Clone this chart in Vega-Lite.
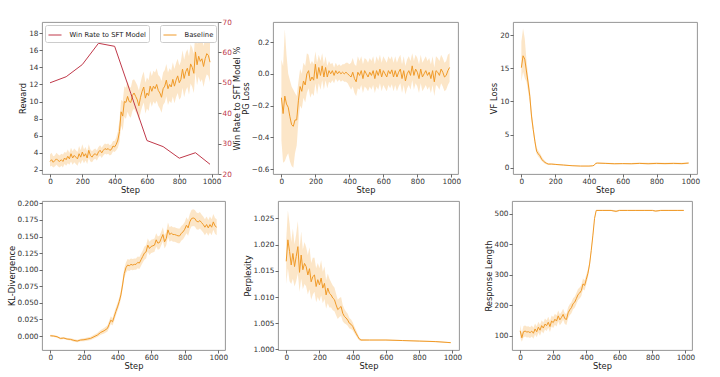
{
"$schema": "https://vega.github.io/schema/vega-lite/v6.json",
"background": "white",
"padding": {"top": 17, "left": 6, "right": 4, "bottom": 2},
"config": {
 "font": "DejaVu Sans",
 "view": {"stroke": "#8a8a8a", "strokeWidth": 0.9},
 "axis": {"grid": false, "domain": false, "labelOverlap": false, "labelFlush": false, "tickColor": "#444", "tickSize": 3, "tickWidth": 0.8, "labelFontSize": 7.3, "labelColor": "#333", "titleFontSize": 8.3, "titleFontWeight": "normal", "titleColor": "#222", "labelPadding": 1, "titlePadding": 1, "labelFont": "DejaVu Sans", "titleFont": "DejaVu Sans"},
 "axisX": {"titlePadding": 1, "labelPadding": 0.5},
 "legend": {"labelFontSize": 6.8, "labelFont": "DejaVu Sans", "labelColor": "#222", "symbolType": "stroke", "symbolSize": 170, "symbolStrokeWidth": 1.3, "strokeColor": "#cccccc", "cornerRadius": 2, "padding": 2.5, "fillColor": "white", "labelOffset": 7},
 "line": {"strokeWidth": 1}
},
"datasets": {
 "reward": [
  {"s":0,"m":3.0,"l":2.4,"h":3.8},{"s":10,"m":3.2,"l":2.5,"h":4.0},{"s":20,"m":2.9,"l":2.3,"h":3.6},{"s":30,"m":3.1,"l":2.4,"h":3.7},{"s":40,"m":3.3,"l":2.6,"h":4.0},{"s":50,"m":3.1,"l":2.4,"h":3.8},{"s":60,"m":3.0,"l":2.3,"h":3.7},{"s":70,"m":3.2,"l":2.5,"h":3.9},{"s":80,"m":3.0,"l":2.3,"h":3.8},{"s":90,"m":3.4,"l":2.7,"h":4.1},
  {"s":100,"m":3.2,"l":2.5,"h":4.0},{"s":110,"m":3.6,"l":2.8,"h":4.4},{"s":120,"m":3.3,"l":2.6,"h":4.0},{"s":130,"m":3.9,"l":3.0,"h":4.6},{"s":140,"m":3.4,"l":2.6,"h":4.2},{"s":150,"m":3.7,"l":2.9,"h":4.5},{"s":160,"m":3.5,"l":2.7,"h":4.3},{"s":170,"m":3.3,"l":2.5,"h":4.1},{"s":180,"m":3.9,"l":3.0,"h":4.8},{"s":190,"m":3.5,"l":2.7,"h":4.3},
  {"s":200,"m":4.1,"l":3.2,"h":5.0},{"s":210,"m":3.6,"l":2.8,"h":4.4},{"s":220,"m":3.9,"l":3.1,"h":4.7},{"s":230,"m":3.4,"l":2.7,"h":4.2},{"s":240,"m":4.3,"l":3.4,"h":5.0},{"s":250,"m":3.7,"l":3.0,"h":4.4},{"s":260,"m":3.5,"l":2.9,"h":4.2},{"s":270,"m":3.8,"l":3.2,"h":4.4},{"s":280,"m":3.9,"l":3.3,"h":4.5},{"s":290,"m":3.7,"l":3.1,"h":4.3},
  {"s":300,"m":4.1,"l":3.5,"h":4.7},{"s":310,"m":4.3,"l":3.7,"h":4.9},{"s":320,"m":4.0,"l":3.4,"h":4.6},{"s":330,"m":4.3,"l":3.7,"h":4.9},{"s":340,"m":4.5,"l":3.9,"h":5.1},{"s":350,"m":4.4,"l":3.8,"h":5.0},{"s":360,"m":4.5,"l":3.9,"h":5.1},{"s":370,"m":4.3,"l":3.7,"h":4.9},{"s":380,"m":4.4,"l":3.8,"h":5.0},{"s":390,"m":4.8,"l":4.2,"h":5.4},
  {"s":400,"m":4.7,"l":4.1,"h":5.4},{"s":410,"m":5.0,"l":4.3,"h":5.8},{"s":420,"m":5.5,"l":4.6,"h":6.5},{"s":430,"m":6.5,"l":5.3,"h":7.8},{"s":440,"m":8.8,"l":7.2,"h":10.2},{"s":450,"m":8.3,"l":6.6,"h":10.0},{"s":460,"m":10.0,"l":8.2,"h":11.8},{"s":470,"m":9.9,"l":8.0,"h":11.6},{"s":480,"m":10.6,"l":8.8,"h":12.4},{"s":490,"m":10.0,"l":8.3,"h":11.8},
  {"s":500,"m":9.9,"l":8.1,"h":11.6},{"s":510,"m":10.7,"l":8.9,"h":12.5},{"s":520,"m":11.0,"l":9.2,"h":12.6},{"s":530,"m":10.6,"l":8.8,"h":12.3},{"s":540,"m":10.2,"l":8.5,"h":11.9},{"s":550,"m":9.5,"l":7.8,"h":11.3},{"s":560,"m":10.5,"l":8.7,"h":12.2},{"s":570,"m":11.2,"l":9.4,"h":13.0},{"s":580,"m":11.7,"l":9.9,"h":13.5},{"s":590,"m":10.4,"l":8.6,"h":12.2},
  {"s":600,"m":11.0,"l":9.2,"h":12.8},{"s":610,"m":10.7,"l":8.9,"h":12.5},{"s":620,"m":11.8,"l":10.0,"h":13.6},{"s":630,"m":11.2,"l":9.4,"h":13.0},{"s":640,"m":11.8,"l":10.0,"h":13.6},{"s":650,"m":11.5,"l":9.7,"h":13.4},{"s":660,"m":12.0,"l":10.1,"h":13.9},{"s":670,"m":11.3,"l":9.5,"h":13.1},{"s":680,"m":11.0,"l":9.2,"h":12.9},{"s":690,"m":10.5,"l":8.7,"h":12.4},
  {"s":700,"m":11.5,"l":9.6,"h":13.4},{"s":710,"m":11.8,"l":9.9,"h":13.7},{"s":720,"m":12.5,"l":10.6,"h":14.4},{"s":730,"m":11.5,"l":9.6,"h":13.4},{"s":740,"m":12.0,"l":10.1,"h":13.9},{"s":750,"m":11.7,"l":9.8,"h":13.6},{"s":760,"m":12.6,"l":10.6,"h":14.6},{"s":770,"m":11.8,"l":9.8,"h":13.8},{"s":780,"m":12.5,"l":10.5,"h":14.5},{"s":790,"m":13.0,"l":11.0,"h":15.0},
  {"s":800,"m":12.2,"l":10.2,"h":14.2},{"s":810,"m":12.6,"l":10.5,"h":14.7},{"s":820,"m":13.8,"l":11.6,"h":16.0},{"s":830,"m":12.7,"l":10.5,"h":14.9},{"s":840,"m":13.5,"l":11.3,"h":15.7},{"s":850,"m":13.9,"l":11.7,"h":16.1},{"s":860,"m":13.0,"l":10.8,"h":15.3},{"s":870,"m":14.4,"l":12.1,"h":16.7},{"s":880,"m":14.0,"l":11.7,"h":16.3},{"s":890,"m":13.3,"l":11.0,"h":15.6},
  {"s":900,"m":15.8,"l":13.4,"h":18.2},{"s":910,"m":14.3,"l":11.9,"h":16.7},{"s":920,"m":15.3,"l":12.9,"h":17.7},{"s":930,"m":14.7,"l":12.3,"h":17.1},{"s":940,"m":15.0,"l":12.6,"h":17.4},{"s":950,"m":14.1,"l":11.7,"h":16.5},{"s":960,"m":15.0,"l":12.6,"h":17.4},{"s":970,"m":15.6,"l":13.2,"h":18.0},{"s":980,"m":15.4,"l":13.0,"h":17.8},{"s":990,"m":14.6,"l":12.3,"h":17.0}
 ],
 "winrate": [
  {"s":0,"w":50},{"s":100,"w":52},{"s":200,"w":56},{"s":300,"w":63},{"s":400,"w":62},{"s":500,"w":46.5},{"s":600,"w":31},{"s":700,"w":29},{"s":800,"w":25.2},{"s":900,"w":27},{"s":990,"w":23.2}
 ],
 "pg": [
  {"s":0,"m":-0.15,"l":-0.42,"h":0.09},{"s":10,"m":-0.25,"l":-0.56,"h":0.05},{"s":20,"m":-0.14,"l":-0.55,"h":0.28},{"s":30,"m":-0.19,"l":-0.52,"h":0.12},{"s":40,"m":-0.21,"l":-0.5,"h":0.0},{"s":50,"m":-0.27,"l":-0.55,"h":-0.04},{"s":60,"m":-0.32,"l":-0.58,"h":-0.08},{"s":70,"m":-0.33,"l":-0.59,"h":-0.1},{"s":80,"m":-0.29,"l":-0.5,"h":-0.12},{"s":90,"m":-0.29,"l":-0.45,"h":-0.14},
  {"s":100,"m":-0.17,"l":-0.3,"h":-0.05},{"s":110,"m":-0.08,"l":-0.2,"h":0.03},{"s":120,"m":-0.11,"l":-0.22,"h":0.0},{"s":130,"m":-0.045,"l":-0.15,"h":0.07},{"s":140,"m":-0.07,"l":-0.18,"h":0.05},{"s":150,"m":0.0,"l":-0.12,"h":0.13},{"s":160,"m":0.02,"l":-0.09,"h":0.12},{"s":170,"m":-0.045,"l":-0.15,"h":0.06},{"s":180,"m":-0.02,"l":-0.12,"h":0.08},{"s":190,"m":-0.04,"l":-0.14,"h":0.06},
  {"s":200,"m":0.06,"l":-0.06,"h":0.14},{"s":210,"m":-0.03,"l":-0.13,"h":0.07},{"s":220,"m":0.04,"l":-0.06,"h":0.12},{"s":230,"m":-0.01,"l":-0.1,"h":0.08},{"s":240,"m":0.05,"l":-0.04,"h":0.13},{"s":250,"m":-0.02,"l":-0.1,"h":0.06},{"s":260,"m":0.04,"l":-0.04,"h":0.11},{"s":270,"m":-0.02,"l":-0.09,"h":0.05},{"s":280,"m":0.02,"l":-0.05,"h":0.08},{"s":290,"m":0.0,"l":-0.06,"h":0.06},
  {"s":300,"m":0.02,"l":-0.04,"h":0.07},{"s":310,"m":-0.01,"l":-0.06,"h":0.04},{"s":320,"m":0.02,"l":-0.03,"h":0.07},{"s":330,"m":0.0,"l":-0.05,"h":0.05},{"s":340,"m":0.015,"l":-0.035,"h":0.06},{"s":350,"m":0.0,"l":-0.05,"h":0.05},{"s":360,"m":0.01,"l":-0.04,"h":0.06},{"s":370,"m":0.0,"l":-0.05,"h":0.06},{"s":380,"m":0.01,"l":-0.05,"h":0.07},{"s":390,"m":0.0,"l":-0.06,"h":0.07},
  {"s":400,"m":-0.01,"l":-0.08,"h":0.06},{"s":410,"m":-0.02,"l":-0.1,"h":0.07},{"s":420,"m":0.01,"l":-0.08,"h":0.1},{"s":430,"m":-0.03,"l":-0.12,"h":0.06},{"s":440,"m":-0.05,"l":-0.14,"h":0.05},{"s":450,"m":0.01,"l":-0.09,"h":0.11},{"s":460,"m":-0.01,"l":-0.1,"h":0.08},{"s":470,"m":0.02,"l":-0.07,"h":0.11},{"s":480,"m":-0.03,"l":-0.12,"h":0.06},{"s":490,"m":0.02,"l":-0.08,"h":0.1},
  {"s":500,"m":0.0,"l":-0.09,"h":0.09},{"s":510,"m":-0.02,"l":-0.11,"h":0.07},{"s":520,"m":0.01,"l":-0.08,"h":0.1},{"s":530,"m":-0.01,"l":-0.1,"h":0.08},{"s":540,"m":0.02,"l":-0.07,"h":0.11},{"s":550,"m":-0.03,"l":-0.12,"h":0.06},{"s":560,"m":0.02,"l":-0.08,"h":0.11},{"s":570,"m":-0.01,"l":-0.1,"h":0.08},{"s":580,"m":0.03,"l":-0.06,"h":0.12},{"s":590,"m":-0.02,"l":-0.11,"h":0.07},
  {"s":600,"m":0.02,"l":-0.07,"h":0.11},{"s":610,"m":0.0,"l":-0.09,"h":0.09},{"s":620,"m":-0.02,"l":-0.11,"h":0.07},{"s":630,"m":0.02,"l":-0.07,"h":0.11},{"s":640,"m":0.0,"l":-0.09,"h":0.09},{"s":650,"m":0.025,"l":-0.065,"h":0.11},{"s":660,"m":-0.02,"l":-0.11,"h":0.07},{"s":670,"m":0.02,"l":-0.07,"h":0.11},{"s":680,"m":-0.02,"l":-0.11,"h":0.07},{"s":690,"m":0.01,"l":-0.08,"h":0.1},
  {"s":700,"m":0.03,"l":-0.06,"h":0.12},{"s":710,"m":-0.03,"l":-0.12,"h":0.06},{"s":720,"m":0.02,"l":-0.07,"h":0.11},{"s":730,"m":-0.045,"l":-0.13,"h":0.05},{"s":740,"m":0.0,"l":-0.09,"h":0.09},{"s":750,"m":0.02,"l":-0.07,"h":0.11},{"s":760,"m":-0.01,"l":-0.1,"h":0.08},{"s":770,"m":0.05,"l":-0.04,"h":0.13},{"s":780,"m":-0.01,"l":-0.1,"h":0.08},{"s":790,"m":0.03,"l":-0.06,"h":0.12},
  {"s":800,"m":0.01,"l":-0.08,"h":0.1},{"s":810,"m":-0.03,"l":-0.12,"h":0.06},{"s":820,"m":0.03,"l":-0.06,"h":0.12},{"s":830,"m":-0.02,"l":-0.11,"h":0.07},{"s":840,"m":0.0,"l":-0.09,"h":0.09},{"s":850,"m":0.02,"l":-0.07,"h":0.11},{"s":860,"m":-0.01,"l":-0.1,"h":0.08},{"s":870,"m":0.01,"l":-0.08,"h":0.1},{"s":880,"m":-0.03,"l":-0.12,"h":0.06},{"s":890,"m":0.02,"l":-0.07,"h":0.11},
  {"s":900,"m":-0.05,"l":-0.14,"h":0.04},{"s":910,"m":0.02,"l":-0.07,"h":0.11},{"s":920,"m":0.01,"l":-0.08,"h":0.1},{"s":930,"m":-0.01,"l":-0.1,"h":0.08},{"s":940,"m":0.03,"l":-0.06,"h":0.12},{"s":950,"m":0.01,"l":-0.08,"h":0.1},{"s":960,"m":-0.02,"l":-0.11,"h":0.07},{"s":970,"m":-0.01,"l":-0.1,"h":0.08},{"s":980,"m":0.02,"l":-0.07,"h":0.12},{"s":990,"m":0.04,"l":-0.05,"h":0.13}
 ],
 "vf": [
  {"s":0,"m":15.1,"l":13.0,"h":19.0},{"s":10,"m":16.9,"l":14.5,"h":21.0},{"s":20,"m":16.4,"l":13.5,"h":19.5},{"s":30,"m":14.6,"l":13.0,"h":16.3},{"s":40,"m":12.8,"l":11.5,"h":13.8},{"s":50,"m":10.8,"l":9.8,"h":11.9},{"s":60,"m":7.8,"l":7.0,"h":8.7},{"s":70,"m":5.8,"l":5.2,"h":6.5},{"s":80,"m":4.0,"l":3.5,"h":4.6},{"s":90,"m":2.5,"l":2.1,"h":3.0},
  {"s":100,"m":2.1,"l":1.7,"h":2.6},{"s":110,"m":1.8,"l":1.4,"h":2.2},{"s":120,"m":1.3,"l":1.0,"h":1.7},{"s":130,"m":1.0,"l":0.8,"h":1.3},{"s":140,"m":0.8,"l":0.6,"h":1.0},{"s":150,"m":0.65,"l":0.5,"h":0.8},{"s":160,"m":0.55,"l":0.42,"h":0.68},{"s":180,"m":0.55,"l":0.45,"h":0.65},{"s":200,"m":0.5,"l":0.42,"h":0.58},{"s":250,"m":0.4,"l":0.33,"h":0.47},
  {"s":300,"m":0.3,"l":0.24,"h":0.36},{"s":350,"m":0.25,"l":0.2,"h":0.3},{"s":400,"m":0.25,"l":0.2,"h":0.3},{"s":420,"m":0.28,"l":0.22,"h":0.34},{"s":430,"m":0.35,"l":0.28,"h":0.42},{"s":440,"m":0.65,"l":0.55,"h":0.75},{"s":450,"m":0.7,"l":0.6,"h":0.8},{"s":500,"m":0.65,"l":0.55,"h":0.75},{"s":550,"m":0.6,"l":0.5,"h":0.7},{"s":600,"m":0.62,"l":0.52,"h":0.72},
  {"s":650,"m":0.6,"l":0.5,"h":0.7},{"s":700,"m":0.65,"l":0.55,"h":0.78},{"s":750,"m":0.6,"l":0.48,"h":0.75},{"s":800,"m":0.65,"l":0.53,"h":0.78},{"s":850,"m":0.62,"l":0.5,"h":0.75},{"s":900,"m":0.65,"l":0.53,"h":0.78},{"s":950,"m":0.62,"l":0.5,"h":0.75},{"s":990,"m":0.7,"l":0.58,"h":0.82}
 ],
 "kl": [
  {"s":0,"m":0.0005,"l":-0.001,"h":0.002},{"s":20,"m":0.0,"l":-0.0015,"h":0.0015},{"s":40,"m":-0.001,"l":-0.0025,"h":0.0005},{"s":60,"m":-0.0035,"l":-0.005,"h":-0.002},{"s":80,"m":-0.003,"l":-0.0045,"h":-0.0015},{"s":100,"m":-0.0045,"l":-0.006,"h":-0.003},{"s":120,"m":-0.005,"l":-0.0068,"h":-0.0032},{"s":140,"m":-0.0065,"l":-0.0085,"h":-0.0045},{"s":160,"m":-0.0075,"l":-0.0095,"h":-0.0055},{"s":180,"m":-0.006,"l":-0.008,"h":-0.004},
  {"s":200,"m":-0.0055,"l":-0.0078,"h":-0.0032},{"s":220,"m":-0.0045,"l":-0.007,"h":-0.002},{"s":240,"m":-0.0035,"l":-0.006,"h":-0.001},{"s":260,"m":-0.001,"l":-0.0038,"h":0.0018},{"s":280,"m":0.0015,"l":-0.0015,"h":0.0045},{"s":300,"m":0.0055,"l":0.002,"h":0.009},{"s":320,"m":0.008,"l":0.004,"h":0.012},{"s":340,"m":0.0115,"l":0.007,"h":0.016},{"s":350,"m":0.0175,"l":0.012,"h":0.023},{"s":360,"m":0.024,"l":0.018,"h":0.03},
  {"s":370,"m":0.0215,"l":0.016,"h":0.027},{"s":380,"m":0.029,"l":0.023,"h":0.035},{"s":390,"m":0.037,"l":0.031,"h":0.043},{"s":400,"m":0.044,"l":0.038,"h":0.05},{"s":410,"m":0.052,"l":0.046,"h":0.058},{"s":420,"m":0.062,"l":0.055,"h":0.069},{"s":430,"m":0.077,"l":0.07,"h":0.085},{"s":440,"m":0.094,"l":0.087,"h":0.102},{"s":450,"m":0.103,"l":0.095,"h":0.111},{"s":460,"m":0.107,"l":0.099,"h":0.116},
  {"s":470,"m":0.106,"l":0.098,"h":0.115},{"s":480,"m":0.108,"l":0.1,"h":0.117},{"s":490,"m":0.107,"l":0.099,"h":0.116},{"s":500,"m":0.108,"l":0.1,"h":0.117},{"s":510,"m":0.108,"l":0.1,"h":0.117},{"s":520,"m":0.111,"l":0.102,"h":0.12},{"s":530,"m":0.11,"l":0.101,"h":0.119},{"s":540,"m":0.115,"l":0.106,"h":0.124},{"s":550,"m":0.12,"l":0.111,"h":0.129},{"s":560,"m":0.125,"l":0.115,"h":0.135},
  {"s":570,"m":0.127,"l":0.117,"h":0.137},{"s":580,"m":0.137,"l":0.127,"h":0.147},{"s":590,"m":0.132,"l":0.122,"h":0.142},{"s":600,"m":0.135,"l":0.125,"h":0.145},{"s":610,"m":0.136,"l":0.126,"h":0.146},{"s":620,"m":0.137,"l":0.127,"h":0.147},{"s":630,"m":0.145,"l":0.135,"h":0.155},{"s":640,"m":0.14,"l":0.13,"h":0.15},{"s":650,"m":0.141,"l":0.131,"h":0.151},{"s":660,"m":0.147,"l":0.137,"h":0.157},
  {"s":670,"m":0.153,"l":0.143,"h":0.164},{"s":680,"m":0.142,"l":0.132,"h":0.152},{"s":690,"m":0.147,"l":0.137,"h":0.157},{"s":700,"m":0.16,"l":0.149,"h":0.171},{"s":710,"m":0.153,"l":0.142,"h":0.164},{"s":720,"m":0.155,"l":0.144,"h":0.166},{"s":730,"m":0.153,"l":0.142,"h":0.164},{"s":740,"m":0.153,"l":0.142,"h":0.164},{"s":750,"m":0.152,"l":0.141,"h":0.163},{"s":760,"m":0.151,"l":0.14,"h":0.162},
  {"s":770,"m":0.151,"l":0.14,"h":0.162},{"s":780,"m":0.155,"l":0.144,"h":0.166},{"s":790,"m":0.157,"l":0.146,"h":0.168},{"s":800,"m":0.161,"l":0.15,"h":0.172},{"s":810,"m":0.167,"l":0.155,"h":0.179},{"s":820,"m":0.163,"l":0.151,"h":0.175},{"s":830,"m":0.172,"l":0.16,"h":0.184},{"s":840,"m":0.177,"l":0.165,"h":0.19},{"s":850,"m":0.178,"l":0.166,"h":0.191},{"s":860,"m":0.177,"l":0.165,"h":0.19},
  {"s":870,"m":0.173,"l":0.161,"h":0.186},{"s":880,"m":0.172,"l":0.16,"h":0.185},{"s":890,"m":0.174,"l":0.162,"h":0.187},{"s":900,"m":0.171,"l":0.159,"h":0.183},{"s":910,"m":0.168,"l":0.156,"h":0.18},{"s":920,"m":0.164,"l":0.152,"h":0.176},{"s":930,"m":0.168,"l":0.156,"h":0.18},{"s":940,"m":0.163,"l":0.151,"h":0.175},{"s":950,"m":0.168,"l":0.156,"h":0.18},{"s":960,"m":0.164,"l":0.152,"h":0.176},
  {"s":970,"m":0.172,"l":0.16,"h":0.184},{"s":980,"m":0.166,"l":0.154,"h":0.178},{"s":990,"m":0.164,"l":0.152,"h":0.176}
 ],
 "ppl": [
  {"s":0,"m":1.0168,"l":1.0125,"h":1.021},{"s":10,"m":1.0209,"l":1.0155,"h":1.0265},{"s":20,"m":1.0187,"l":1.013,"h":1.024},{"s":30,"m":1.0161,"l":1.0125,"h":1.0205},{"s":40,"m":1.0183,"l":1.0135,"h":1.023},{"s":50,"m":1.0158,"l":1.012,"h":1.02},{"s":60,"m":1.0177,"l":1.013,"h":1.022},{"s":70,"m":1.0196,"l":1.0145,"h":1.0245},{"s":80,"m":1.0147,"l":1.011,"h":1.019},{"s":90,"m":1.018,"l":1.0135,"h":1.0225},
  {"s":100,"m":1.0152,"l":1.0115,"h":1.019},{"s":110,"m":1.0164,"l":1.0125,"h":1.0205},{"s":120,"m":1.0158,"l":1.012,"h":1.0195},{"s":130,"m":1.0142,"l":1.0105,"h":1.018},{"s":140,"m":1.0154,"l":1.0115,"h":1.0195},{"s":150,"m":1.0129,"l":1.0095,"h":1.0165},{"s":160,"m":1.0139,"l":1.0105,"h":1.0175},{"s":170,"m":1.0142,"l":1.011,"h":1.0175},{"s":180,"m":1.012,"l":1.009,"h":1.0155},{"s":190,"m":1.0133,"l":1.01,"h":1.0165},
  {"s":200,"m":1.0123,"l":1.0092,"h":1.0155},{"s":210,"m":1.0136,"l":1.0103,"h":1.017},{"s":220,"m":1.0117,"l":1.0088,"h":1.0148},{"s":230,"m":1.0126,"l":1.0096,"h":1.0158},{"s":240,"m":1.0104,"l":1.0078,"h":1.0132},{"s":250,"m":1.0117,"l":1.0088,"h":1.0145},{"s":260,"m":1.0107,"l":1.008,"h":1.0135},{"s":270,"m":1.0104,"l":1.008,"h":1.0128},{"s":280,"m":1.0098,"l":1.0075,"h":1.0122},{"s":290,"m":1.0095,"l":1.0073,"h":1.0118},
  {"s":300,"m":1.0085,"l":1.0065,"h":1.0106},{"s":310,"m":1.0076,"l":1.0058,"h":1.0095},{"s":320,"m":1.0079,"l":1.0062,"h":1.0098},{"s":330,"m":1.0082,"l":1.0064,"h":1.01},{"s":340,"m":1.0069,"l":1.0054,"h":1.0085},{"s":350,"m":1.0063,"l":1.005,"h":1.0077},{"s":360,"m":1.006,"l":1.0048,"h":1.0072},{"s":370,"m":1.0056,"l":1.0045,"h":1.0068},{"s":380,"m":1.005,"l":1.004,"h":1.006},{"s":390,"m":1.0048,"l":1.0039,"h":1.0057},
  {"s":400,"m":1.0044,"l":1.0036,"h":1.0052},{"s":410,"m":1.0037,"l":1.0031,"h":1.0044},{"s":420,"m":1.0031,"l":1.0026,"h":1.0037},{"s":430,"m":1.0025,"l":1.0021,"h":1.003},{"s":440,"m":1.002,"l":1.0017,"h":1.0023},{"s":450,"m":1.0018,"l":1.0016,"h":1.002},{"s":500,"m":1.0018,"l":1.0017,"h":1.0019},{"s":600,"m":1.0018,"l":1.0017,"h":1.0019},{"s":700,"m":1.0017,"l":1.0016,"h":1.0018},{"s":800,"m":1.0016,"l":1.0015,"h":1.0017},
  {"s":900,"m":1.0015,"l":1.0014,"h":1.0016},{"s":990,"m":1.0013,"l":1.0012,"h":1.0014}
 ],
 "resp": [
  {"s":0,"m":116,"l":95,"h":135},{"s":10,"m":93,"l":80,"h":110},{"s":20,"m":113,"l":95,"h":132},{"s":30,"m":115,"l":97,"h":133},{"s":40,"m":112,"l":94,"h":130},{"s":50,"m":113,"l":95,"h":131},{"s":60,"m":110,"l":92,"h":128},{"s":70,"m":115,"l":97,"h":133},{"s":80,"m":108,"l":90,"h":126},{"s":90,"m":122,"l":104,"h":140},
  {"s":100,"m":113,"l":95,"h":131},{"s":110,"m":128,"l":110,"h":146},{"s":120,"m":118,"l":100,"h":136},{"s":130,"m":133,"l":115,"h":151},{"s":140,"m":125,"l":107,"h":143},{"s":150,"m":138,"l":120,"h":156},{"s":160,"m":133,"l":115,"h":151},{"s":170,"m":144,"l":126,"h":162},{"s":180,"m":130,"l":112,"h":148},{"s":190,"m":148,"l":130,"h":166},
  {"s":200,"m":143,"l":125,"h":161},{"s":210,"m":154,"l":136,"h":172},{"s":220,"m":148,"l":130,"h":166},{"s":230,"m":165,"l":147,"h":183},{"s":240,"m":152,"l":134,"h":170},{"s":250,"m":160,"l":142,"h":178},{"s":260,"m":170,"l":152,"h":188},{"s":270,"m":156,"l":138,"h":174},{"s":280,"m":153,"l":135,"h":171},{"s":290,"m":175,"l":157,"h":193},
  {"s":300,"m":185,"l":167,"h":203},{"s":310,"m":192,"l":174,"h":210},{"s":320,"m":205,"l":187,"h":223},{"s":330,"m":210,"l":192,"h":228},{"s":340,"m":222,"l":204,"h":240},{"s":350,"m":235,"l":217,"h":253},{"s":360,"m":240,"l":222,"h":258},{"s":370,"m":248,"l":230,"h":266},{"s":380,"m":270,"l":252,"h":288},{"s":390,"m":265,"l":248,"h":282},
  {"s":400,"m":285,"l":270,"h":300},{"s":410,"m":305,"l":292,"h":318},{"s":420,"m":335,"l":325,"h":345},{"s":430,"m":380,"l":372,"h":388},{"s":440,"m":430,"l":424,"h":436},{"s":450,"m":485,"l":481,"h":489},{"s":460,"m":511,"l":509,"h":513},{"s":500,"m":511,"l":509,"h":513},{"s":550,"m":511,"l":509,"h":513},{"s":580,"m":508,"l":505,"h":512},
  {"s":600,"m":511,"l":509,"h":513},{"s":650,"m":511,"l":509,"h":513},{"s":700,"m":511,"l":509,"h":513},{"s":750,"m":511,"l":509,"h":513},{"s":800,"m":511,"l":509,"h":513},{"s":820,"m":509,"l":506,"h":512},{"s":850,"m":511,"l":509,"h":513},{"s":900,"m":511,"l":509,"h":513},{"s":950,"m":511,"l":509,"h":513},{"s":990,"m":511,"l":509,"h":513}
 ]
},
"columns": 1,
"align": "none",
"spacing": 3,
"concat": [
 {"spacing": 55, "bounds": "flush", "hconcat": [
  {"width": 176, "height": 152,
   "encoding": {"x": {"field": "s", "type": "quantitative", "scale": {"domain": [-49.5, 1039.5], "nice": false, "zero": false}, "axis": {"values": [0,200,400,600,800,1000], "format": "d", "title": "Step", "labelOverlap": false}}},
   "layer": [
    {"data": {"name": "reward"},
     "mark": {"type": "area", "color": "#f5a73a", "opacity": 0.28},
     "encoding": {
      "y": {"field": "l", "type": "quantitative", "scale": {"domain": [1.53, 19.3], "nice": false, "zero": false}, "axis": null},
      "y2": {"field": "h"}}},
    {"data": {"name": "reward"},
     "mark": {"type": "line", "strokeWidth": 1},
     "encoding": {
      "y": {"field": "m", "type": "quantitative", "scale": {"domain": [1.53, 19.3], "nice": false, "zero": false}, "axis": {"values": [2,4,6,8,10,12,14,16,18], "title": "Reward", "labelOverlap": false}},
      "color": {"datum": "Baseline", "scale": {"range": ["#f09a28"]}, "legend": {"title": null, "orient": "none", "legendX": 118, "legendY": 3}}}},
    {"data": {"name": "winrate"},
     "mark": {"type": "line", "strokeWidth": 1},
     "encoding": {
      "y": {"field": "w", "type": "quantitative", "scale": {"domain": [20, 70], "nice": false, "zero": false}, "axis": {"orient": "right", "values": [20,30,40,50,60,70], "title": "Win Rate to SFT Model %", "labelColor": "#c0394a", "titleAngle": 270, "titleBaseline": "top", "labelOverlap": false}},
      "stroke": {"datum": "Win Rate to SFT Model", "scale": {"range": ["#c0394a"]}, "legend": {"title": null, "orient": "none", "legendX": 3, "legendY": 3}}}}
   ],
   "resolve": {"scale": {"y": "independent"}}
  },
  {"width": 185, "height": 152, "data": {"name": "pg"},
   "encoding": {"x": {"field": "s", "type": "quantitative", "scale": {"domain": [-49.5, 1039.5], "nice": false, "zero": false}, "axis": {"values": [0,200,400,600,800,1000], "format": "d", "title": "Step", "labelOverlap": false}}},
   "layer": [
    {"mark": {"type": "area", "color": "#f5a73a", "opacity": 0.28},
     "encoding": {
      "y": {"field": "l", "type": "quantitative", "scale": {"domain": [-0.63, 0.326], "nice": false, "zero": false}, "axis": {"values": [-0.6,-0.4,-0.2,0,0.2], "format": ".1f", "title": "PG Loss", "labelOverlap": false}},
      "y2": {"field": "h"}}},
    {"mark": {"type": "line", "color": "#f09a28", "strokeWidth": 1},
     "encoding": {"y": {"field": "m", "type": "quantitative", "axis": {"values": [-0.6,-0.4,-0.2,0,0.2], "format": ".1f", "title": "PG Loss", "labelOverlap": false}}}}
   ]
  },
  {"width": 184, "height": 152, "data": {"name": "vf"},
   "encoding": {"x": {"field": "s", "type": "quantitative", "scale": {"domain": [-49.5, 1039.5], "nice": false, "zero": false}, "axis": {"values": [0,200,400,600,800,1000], "format": "d", "title": "Step", "labelOverlap": false}}},
   "layer": [
    {"mark": {"type": "area", "color": "#f5a73a", "opacity": 0.28},
     "encoding": {
      "y": {"field": "l", "type": "quantitative", "scale": {"domain": [-0.95, 22.0], "nice": false, "zero": false}, "axis": {"values": [0,5,10,15,20], "title": "VF Loss", "labelOverlap": false}},
      "y2": {"field": "h"}}},
    {"mark": {"type": "line", "color": "#f09a28", "strokeWidth": 1},
     "encoding": {"y": {"field": "m", "type": "quantitative", "axis": {"values": [0,5,10,15,20], "title": "VF Loss", "labelOverlap": false}}}}
   ]
  }
 ]},
 {"spacing": 53, "bounds": "flush", "hconcat": [
  {"width": 183, "height": 149, "data": {"name": "kl"},
   "encoding": {"x": {"field": "s", "type": "quantitative", "scale": {"domain": [-49.5, 1039.5], "nice": false, "zero": false}, "axis": {"values": [0,200,400,600,800,1000], "format": "d", "title": "Step", "labelOverlap": false}}},
   "layer": [
    {"mark": {"type": "area", "color": "#f5a73a", "opacity": 0.28},
     "encoding": {
      "y": {"field": "l", "type": "quantitative", "scale": {"domain": [-0.021, 0.2035], "nice": false, "zero": false}, "axis": {"values": [0,0.025,0.05,0.075,0.1,0.125,0.15,0.175,0.2], "format": ".3f", "title": "KL-Divergence", "labelOverlap": false}},
      "y2": {"field": "h"}}},
    {"mark": {"type": "line", "color": "#f09a28", "strokeWidth": 1},
     "encoding": {"y": {"field": "m", "type": "quantitative", "axis": {"values": [0,0.025,0.05,0.075,0.1,0.125,0.15,0.175,0.2], "format": ".3f", "title": "KL-Divergence", "labelOverlap": false}}}}
   ]
  },
  {"width": 181, "height": 149, "data": {"name": "ppl"},
   "encoding": {"x": {"field": "s", "type": "quantitative", "scale": {"domain": [-49.5, 1039.5], "nice": false, "zero": false}, "axis": {"values": [0,200,400,600,800,1000], "format": "d", "title": "Step", "labelOverlap": false}}},
   "layer": [
    {"mark": {"type": "area", "color": "#f5a73a", "opacity": 0.28},
     "encoding": {
      "y": {"field": "l", "type": "quantitative", "scale": {"domain": [0.9999, 1.0283], "nice": false, "zero": false}, "axis": {"values": [1.0,1.005,1.01,1.015,1.02,1.025], "format": ".3f", "title": "Perplexity", "labelOverlap": false}},
      "y2": {"field": "h"}}},
    {"mark": {"type": "line", "color": "#f09a28", "strokeWidth": 1},
     "encoding": {"y": {"field": "m", "type": "quantitative", "axis": {"values": [1.0,1.005,1.01,1.015,1.02,1.025], "format": ".3f", "title": "Perplexity", "labelOverlap": false}}}}
   ]
  },
  {"width": 180, "height": 149, "data": {"name": "resp"},
   "encoding": {"x": {"field": "s", "type": "quantitative", "scale": {"domain": [-49.5, 1039.5], "nice": false, "zero": false}, "axis": {"values": [0,200,400,600,800,1000], "format": "d", "title": "Step", "labelOverlap": false}}},
   "layer": [
    {"mark": {"type": "area", "color": "#f5a73a", "opacity": 0.28},
     "encoding": {
      "y": {"field": "l", "type": "quantitative", "scale": {"domain": [53, 542], "nice": false, "zero": false}, "axis": {"values": [100,200,300,400,500], "title": "Response Length", "labelOverlap": false}},
      "y2": {"field": "h"}}},
    {"mark": {"type": "line", "color": "#f09a28", "strokeWidth": 1},
     "encoding": {"y": {"field": "m", "type": "quantitative", "axis": {"values": [100,200,300,400,500], "title": "Response Length", "labelOverlap": false}}}}
   ]
  }
 ]}
]
}
